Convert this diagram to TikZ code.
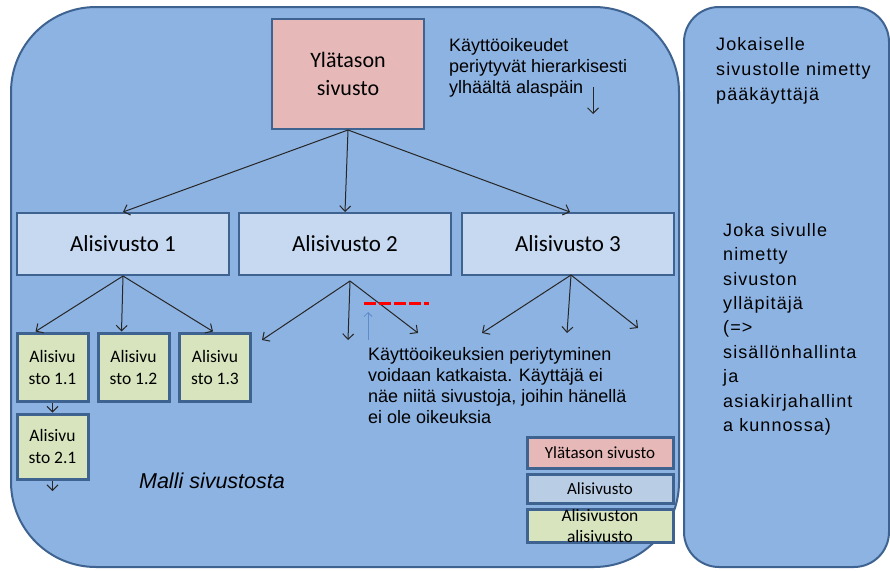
\documentclass[tikz,border=0pt]{standalone}
\usepackage{fontspec}
\setmainfont{Liberation Sans}
\newfontfamily\boxfont{Carlito}
\newfontfamily\spacedfont{Liberation Sans}[LetterSpace=6]
\usetikzlibrary{arrows.meta}

\definecolor{panel}{HTML}{8DB3E2}
\definecolor{edge}{HTML}{3F6390}
\definecolor{topfill}{HTML}{E6B9B8}
\definecolor{subfill}{HTML}{C6D9F1}
\definecolor{leaffill}{HTML}{D7E4BD}
\definecolor{legblue}{HTML}{B9CDE5}
\definecolor{cutred}{HTML}{FF0000}
\definecolor{pointblue}{HTML}{5F8BC8}

\tikzset{
  panelbox/.style={fill=panel, draw=edge, line width=2pt},
  sitebox/.style={draw=edge, line width=2pt, inner sep=0pt, align=center},
  leafbox/.style={draw=edge, line width=3pt, fill=leaffill, inner sep=0pt, align=center,
    minimum width=71pt, font={\boxfont\fontsize{17.5}{22}\selectfont}},
  legendbox/.style={draw=edge, line width=3pt, inner sep=0pt, align=center,
    minimum width=146pt, font={\boxfont\fontsize{17}{22}\selectfont}},
  link/.style={draw=black!85, line width=1pt, -{Straight Barb[length=5.5pt,width=11pt]}},
  note/.style={inner sep=0pt, anchor=north west, align=left},
}

\begin{document}
\begin{tikzpicture}[x=1pt,y=-1pt]
\useasboundingbox (0,0) rectangle (890,570);

% background panels
\draw[panelbox, rounded corners=85pt] (11,7) rectangle (679,567);
\draw[panelbox, rounded corners=35pt] (684,7) rectangle (889,567);

% site hierarchy
\node[sitebox, fill=topfill, minimum width=152pt, minimum height=110pt,
      font={\boxfont\fontsize{22}{28}\selectfont}] (top) at (348,74) {Ylätason\\sivusto};

\node[sitebox, fill=subfill, minimum width=212pt, minimum height=62pt,
      font={\boxfont\fontsize{23}{28}\selectfont}] (a1) at (123,244) {Alisivusto 1};
\node[sitebox, fill=subfill, minimum width=212pt, minimum height=62pt,
      font={\boxfont\fontsize{23}{28}\selectfont}] (a2) at (345,244) {Alisivusto 2};
\node[sitebox, fill=subfill, minimum width=212pt, minimum height=62pt,
      font={\boxfont\fontsize{23}{28}\selectfont}] (a3) at (568,244) {Alisivusto 3};

\node[leafbox, minimum height=68pt] (s11) at (52.5,367) {Alisivu\\sto 1.1};
\node[leafbox, minimum height=68pt] (s12) at (133.5,367) {Alisivu\\sto 1.2};
\node[leafbox, minimum height=68pt] (s13) at (215,367) {Alisivu\\sto 1.3};
\node[leafbox, minimum height=65pt] (s21) at (52.5,446.5) {Alisivu\\sto 2.1};

% free ends of the connectors
\coordinate (s21end) at (52.5,491);
\coordinate (a2root) at (350,281);
\coordinate (a2c1) at (262,340);
\coordinate (a2c2) at (348,340);
\coordinate (a2c3) at (418,333);
\coordinate (a3root) at (571,275);
\coordinate (a3c1) at (482,333);
\coordinate (a3c2) at (567,333);
\coordinate (a3c3) at (638,328);
\coordinate (downA) at (593,87);
\coordinate (downB) at (593,114);
\coordinate (cutA) at (364,303);
\coordinate (cutB) at (429,303);
\coordinate (upA) at (368,340);
\coordinate (upB) at (368,312);

% connectors
\draw[link] (top.south) -- (a1.north);
\draw[link] (top.south) -- (a2.north);
\draw[link] (top.south) -- ([xshift=2pt]a3.north);

\draw[link] (a1.south) -- ([xshift=-17pt]s11.north);
\draw[link] (a1.south) -- ([xshift=-12pt]s12.north);
\draw[link] (a1.south) -- ([xshift=-2pt]s13.north);
\draw[link] (s11.south) -- (s21.north);
\draw[link] (s21.south) -- (s21end);

\draw[link] (a2root) -- (a2c1);
\draw[link] (a2root) -- (a2c2);
\draw[link] (a2root) -- (a2c3);

\draw[link] (a3root) -- (a3c1);
\draw[link] (a3root) -- (a3c2);
\draw[link] (a3root) -- (a3c3);

\draw[link] (downA) -- (downB);

% broken inheritance
\draw[cutred, line width=3pt, dash pattern=on 12pt off 3pt] (cutA) -- (cutB);
\draw[pointblue, line width=0.8pt, -{Straight Barb[length=4pt,width=8pt]}] (upA) -- (upB);

% notes
\node[note, font={\fontsize{18}{21}\selectfont}] (inherit) at (449,38)
  {Käyttöoikeudet\\periytyvät hierarkisesti\\ylhäältä alaspäin};
\node[note, font={\fontsize{18}{21}\selectfont}] (breaknote) at (368,347)
  {Käyttöoikeuksien periytyminen\\voidaan katkaista. Käyttäjä ei\\näe niitä sivustoja, joihin hänellä\\ei ole oikeuksia};
\node[font={\itshape\fontsize{21.5}{26}\selectfont}, inner sep=0pt] (model) at (212,481) {Malli sivustosta};

\node[note, font={\spacedfont\fontsize{18}{25}\selectfont}] (admin) at (716,37)
  {Jokaiselle\\sivustolle nimetty\\pääkäyttäjä};
\node[note, font={\spacedfont\fontsize{18}{24.4}\selectfont}] (owner) at (723,223)
  {Joka sivulle\\nimetty\\sivuston\\ylläpitäjä\\(=>\\sisällönhallinta\\ja\\asiakirjahallint\\a kunnossa)};

% legend
\node[legendbox, fill=topfill, minimum height=31pt] (legtop) at (600,452.5) {Ylätason sivusto};
\node[legendbox, fill=legblue, minimum height=29pt] (legsub) at (600,488.5) {Alisivusto};
\node[legendbox, fill=leaffill, minimum height=31pt,
      font={\boxfont\fontsize{17.5}{21}\selectfont}] (legleaf) at (600,526) {Alisivuston\\alisivusto};
\end{tikzpicture}
\end{document}
